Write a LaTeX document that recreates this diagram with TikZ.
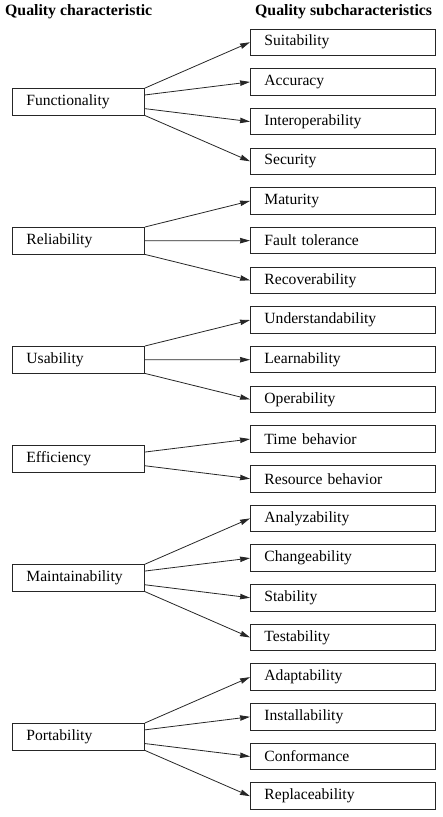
\documentclass[tikz,border=0pt]{standalone}
\usepackage{fontspec}
\setmainfont{Liberation Serif}
\usetikzlibrary{arrows.meta,calc}
\begin{document}
\begin{tikzpicture}[x=1pt,y=-1pt,
  box/.style={draw=black!85, line width=0.9pt, minimum height=26.5pt, inner xsep=14pt, inner ysep=0pt, align=left, font=\fontsize{15.6}{18}\selectfont},
  charbox/.style={box, text width=104pt},
  subbox/.style={box, text width=157pt},
  head/.style={font=\fontsize{15.8}{18}\selectfont\bfseries, inner sep=0pt, anchor=base west},
  arr/.style={draw=black!85, line width=0.8pt, -{Stealth[length=10pt,width=5.5pt,inset=0.5pt]}}]
\useasboundingbox (0,0) rectangle (442,817);
\node[head] (h1) at (5,15) {Quality characteristic};
\node[head] (h2) at (255,15) {Quality subcharacteristics};
\foreach \t [count=\i from 0] in {Suitability,Accuracy,Interoperability,Security,Maturity,Fault tolerance,Recoverability,Understandability,Learnability,Operability,Time behavior,Resource behavior,Analyzability,Changeability,Stability,Testability,Adaptability,Installability,Conformance,Replaceability}
  \node[subbox, anchor=west] (s\i) at (250, 42.25+39.68*\i) {\t};
\node[charbox, anchor=west] (c1) at (12, 101.8) {Functionality};
\node[charbox, anchor=west] (c2) at (12, 240.7) {Reliability};
\node[charbox, anchor=west] (c3) at (12, 359.7) {Usability};
\node[charbox, anchor=west] (c4) at (12, 458.9) {Efficiency};
\node[charbox, anchor=west] (c5) at (12, 577.9) {Maintainability};
\node[charbox, anchor=west] (c6) at (12, 736.7) {Portability};
% Functionality
\draw[arr] (c1.north east) -- (s0.west);
\draw[arr] ($(c1.north east)!0.25!(c1.south east)$) -- (s1.west);
\draw[arr] ($(c1.north east)!0.75!(c1.south east)$) -- (s2.west);
\draw[arr] (c1.south east) -- (s3.west);
% Reliability
\draw[arr] (c2.north east) -- (s4.west);
\draw[arr] (c2.east) -- (s5.west);
\draw[arr] (c2.south east) -- (s6.west);
% Usability
\draw[arr] (c3.north east) -- (s7.west);
\draw[arr] (c3.east) -- (s8.west);
\draw[arr] (c3.south east) -- (s9.west);
% Efficiency
\draw[arr] ($(c4.north east)!0.25!(c4.south east)$) -- (s10.west);
\draw[arr] ($(c4.north east)!0.75!(c4.south east)$) -- (s11.west);
% Maintainability
\draw[arr] (c5.north east) -- (s12.west);
\draw[arr] ($(c5.north east)!0.25!(c5.south east)$) -- (s13.west);
\draw[arr] ($(c5.north east)!0.75!(c5.south east)$) -- (s14.west);
\draw[arr] (c5.south east) -- (s15.west);
% Portability
\draw[arr] (c6.north east) -- (s16.west);
\draw[arr] ($(c6.north east)!0.25!(c6.south east)$) -- (s17.west);
\draw[arr] ($(c6.north east)!0.75!(c6.south east)$) -- (s18.west);
\draw[arr] (c6.south east) -- (s19.west);
\end{tikzpicture}
\end{document}
